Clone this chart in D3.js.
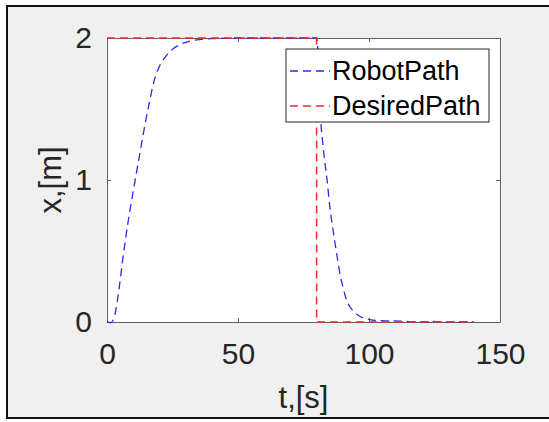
<!DOCTYPE html>
<html>
<head>
<meta charset="utf-8">
<script src="https://cdn.jsdelivr.net/npm/d3@7"></script>
<style>
  body { margin: 0; background: #ffffff; }
  svg { display: block; font-family: "Liberation Sans", Arial, sans-serif; }
</style>
</head>
<body>
<div id="chart"></div>
<script>

// Robot path samples (time in s, position in m)
const robotT = [0, 1.5, 3, 4.5, 6, 8, 10, 12, 14, 16, 18, 20, 22, 25, 28, 32, 36, 40, 50, 60, 70, 80,
                80.8, 81.6, 82.4, 83.2, 84, 85, 86, 87, 88, 89, 90, 91, 92, 93, 95, 97, 100, 103, 107,
                112, 116, 120, 124, 128, 132, 136, 140];
const robotX = [0, -0.005, 0.05, 0.22, 0.44, 0.70, 0.92, 1.13, 1.34, 1.53, 1.70, 1.80, 1.86, 1.92, 1.955, 1.98, 1.99, 1.995, 2.0, 2.0, 2.0, 2.0,
                1.82, 1.42, 1.25, 1.12, 1.0, 0.82, 0.68, 0.56, 0.44, 0.33, 0.25, 0.18, 0.13, 0.10, 0.06, 0.035, 0.018, 0.01, 0.008,
                0.006, 0.002, 0.0, 0.004, 0.001, -0.001, 0.002, 0.0];

// Desired path: step down from 2 to 0 at t = 80
const desiredT = [0, 80, 80, 140];
const desiredX = [2, 2, 0, 0];

const xTicks = [0, 50, 100, 150];
const yTicks = [0, 1, 2];
const seriesNames = ["RobotPath", "DesiredPath"];
const seriesColors = ["#2a2aee", "#ee2a2a"];

// Dimensions
const width = 549;
const height = 422;
const margin = {left: 107, right: 49, top: 38, bottom: 100};

const svg = d3.select("#chart")
  .append("svg")
  .attr("width", width)
  .attr("height", height);

// figure background with frame (right edge is cut off in the original)
svg.append("rect")
  .attr("x", 7).attr("y", 6)
  .attr("width", 600).attr("height", 412)
  .attr("fill", "#f0f0f0")
  .attr("stroke", "#111")
  .attr("stroke-width", 2);

// Scales
const xScale = d3.scaleLinear()
  .domain([0, 150])
  .range([margin.left, width - margin.right]);

const yScale = d3.scaleLinear()
  .domain([0, 2])
  .range([height - margin.bottom, margin.top]);

// plot area
svg.append("rect")
  .attr("x", xScale(0)).attr("y", yScale(2))
  .attr("width", xScale(150) - xScale(0))
  .attr("height", yScale(0) - yScale(2))
  .attr("fill", "#ffffff");

// Axes (matlab style box, ticks pointing inside)
const axisColor = "#606060";
const textColor = "#262626";

const xAxis = svg.append("g")
  .attr("transform", `translate(0,${yScale(0)})`)
  .call(d3.axisBottom(xScale).tickValues(xTicks).tickSizeInner(-4).tickSizeOuter(0).tickPadding(21));

const xTop = svg.append("g")
  .attr("transform", `translate(0,${yScale(2)})`)
  .call(d3.axisTop(xScale).tickValues(xTicks).tickSizeInner(-4).tickSizeOuter(0).tickFormat(""));

const yAxis = svg.append("g")
  .attr("transform", `translate(${xScale(0)},0)`)
  .call(d3.axisLeft(yScale).tickValues(yTicks).tickSizeInner(-4).tickSizeOuter(0).tickPadding(15)
    .tickFormat(d3.format("d")));

const yRight = svg.append("g")
  .attr("transform", `translate(${xScale(150)},0)`)
  .call(d3.axisRight(yScale).tickValues(yTicks).tickSizeInner(-4).tickSizeOuter(0).tickFormat(""));

[xAxis, xTop, yAxis, yRight].forEach(g => {
  g.selectAll("path, line").attr("stroke", axisColor);
  g.selectAll("text")
    .attr("fill", textColor)
    .attr("font-size", "30px")
    .attr("font-family", "Liberation Sans, Arial, sans-serif");
});

// Lines (drawn over the box, like the original)
const robotData = robotT.map((t, i) => ({t: t, x: robotX[i]}));
const desiredData = desiredT.map((t, i) => ({t: t, x: desiredX[i]}));

const line = d3.line()
  .x(d => xScale(d.t))
  .y(d => yScale(d.x));

svg.append("path")
  .datum(robotData)
  .attr("fill", "none")
  .attr("stroke", seriesColors[0])
  .attr("stroke-width", 1.3)
  .attr("stroke-dasharray", "8,5")
  .attr("d", line.curve(d3.curveMonotoneX));

svg.append("path")
  .datum(desiredData)
  .attr("fill", "none")
  .attr("stroke", seriesColors[1])
  .attr("stroke-width", 1.5)
  .attr("stroke-dasharray", "8,5")
  .attr("d", line.curve(d3.curveLinear));

// Axis labels
svg.append("text")
  .attr("x", (xScale(0) + xScale(150)) / 2)
  .attr("y", 408)
  .attr("text-anchor", "middle")
  .attr("fill", textColor)
  .attr("font-size", "31px")
  .text("t,[s]");

svg.append("text")
  .attr("transform", `translate(61,${(yScale(0) + yScale(2)) / 2}) rotate(-90)`)
  .attr("text-anchor", "middle")
  .attr("fill", textColor)
  .attr("font-size", "31px")
  .text("x,[m]");

// Legend
const legend = svg.append("g");

legend.append("rect")
  .attr("x", 286).attr("y", 49)
  .attr("width", 203).attr("height", 73)
  .attr("fill", "#ffffff")
  .attr("stroke", "#262626")
  .attr("stroke-width", 1);

seriesNames.forEach((name, i) => {
  const ly = 71 + i * 35;
  legend.append("line")
    .attr("x1", 290).attr("x2", 330)
    .attr("y1", ly).attr("y2", ly)
    .attr("stroke", seriesColors[i])
    .attr("stroke-width", 1.3)
    .attr("stroke-dasharray", "8,5");
  legend.append("text")
    .attr("x", 332)
    .attr("y", ly + 9)
    .attr("fill", "#000")
    .attr("font-size", "27px")
    .text(name);
});

</script>
</body>
</html>
